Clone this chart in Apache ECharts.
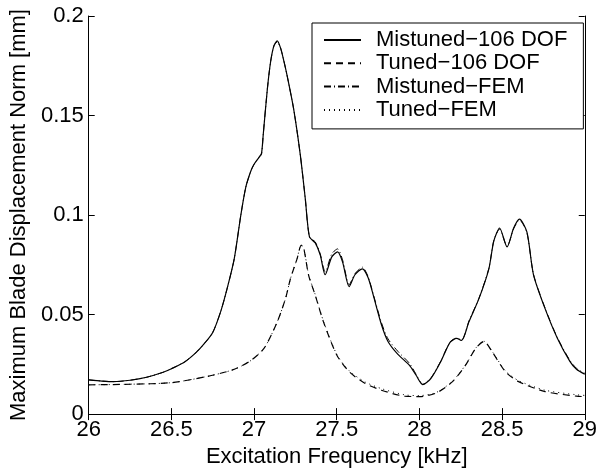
<!DOCTYPE html>
<html>
<head>
<meta charset="utf-8">
<script src="https://cdn.jsdelivr.net/npm/echarts@6/dist/echarts.min.js"></script>
<style>html,body{margin:0;padding:0;background:#fff}#c{width:600px;height:473px}</style>
</head>
<body>
<div id="c"></div>
<script>
// Upper curve (mistuned)
var upperFreq = [26.00,26.08,26.15,26.25,26.35,26.45,26.50,26.58,26.65,26.70,26.75,26.80,26.84,26.88,26.92,26.95,26.98,27.00,27.03,27.045,27.055,27.08,27.10,27.12,27.14,27.16,27.18,27.20,27.24,27.28,27.31,27.335,27.37,27.40,27.43,27.47,27.505,27.535,27.575,27.61,27.655,27.69,27.72,27.77,27.81,27.87,27.94,27.98,28.02,28.07,28.13,28.185,28.225,28.255,28.30,28.36,28.42,28.45,28.485,28.53,28.57,28.605,28.65,28.69,28.76,28.835,28.91,28.95,29.00];
var mistuned106 = [0.0172,0.0166,0.0163,0.0170,0.0185,0.0210,0.0228,0.0262,0.0310,0.0355,0.0410,0.0520,0.0640,0.0780,0.1000,0.1140,0.1220,0.1255,0.1290,0.1310,0.1400,0.1630,0.1770,0.1850,0.1875,0.1840,0.1775,0.1700,0.1530,0.1300,0.1080,0.0890,0.0860,0.0800,0.0700,0.0790,0.0815,0.0765,0.0640,0.0700,0.0730,0.0685,0.0600,0.0450,0.0365,0.0300,0.0245,0.0195,0.0148,0.0180,0.0265,0.0360,0.0380,0.0370,0.0465,0.0580,0.0730,0.0870,0.0935,0.0840,0.0935,0.0980,0.0915,0.0700,0.0530,0.0380,0.0265,0.0225,0.0200];
var mistunedFEM = [0.0172,0.0166,0.0163,0.0170,0.0185,0.0210,0.0228,0.0262,0.0310,0.0355,0.0410,0.0520,0.0640,0.0780,0.1000,0.1140,0.1220,0.1255,0.1290,0.1305,0.1400,0.1630,0.1770,0.1850,0.1870,0.1840,0.1775,0.1700,0.1530,0.1300,0.1080,0.0890,0.0865,0.0805,0.0715,0.0805,0.0830,0.0775,0.0650,0.0705,0.0738,0.0690,0.0605,0.0460,0.0378,0.0315,0.0255,0.0200,0.0150,0.0182,0.0268,0.0362,0.0382,0.0372,0.0468,0.0582,0.0732,0.0872,0.0930,0.0842,0.0932,0.0975,0.0912,0.0702,0.0532,0.0383,0.0270,0.0230,0.0205];
// Lower curve (tuned)
var lowerFreq = [26.00,26.25,26.50,26.71,26.87,26.97,27.06,27.14,27.19,27.22,27.26,27.285,27.30,27.33,27.37,27.42,27.50,27.575,27.67,27.77,27.91,28.00,28.10,28.20,28.28,28.34,28.39,28.44,28.52,28.60,28.76,28.95,29.00];
var tuned106 = [0.0147,0.0150,0.0158,0.0188,0.0222,0.0263,0.0330,0.0463,0.0580,0.0680,0.0780,0.0848,0.0835,0.0697,0.0597,0.0463,0.0297,0.0213,0.0155,0.0120,0.0090,0.0088,0.0105,0.0163,0.0247,0.0330,0.0365,0.0313,0.0213,0.0163,0.0113,0.0090,0.0088];
var tunedFEM = [0.0147,0.0150,0.0158,0.0188,0.0222,0.0263,0.0330,0.0463,0.0580,0.0680,0.0780,0.0850,0.0837,0.0700,0.0600,0.0466,0.0300,0.0218,0.0162,0.0128,0.0097,0.0093,0.0108,0.0165,0.0248,0.0331,0.0366,0.0315,0.0217,0.0168,0.0120,0.0097,0.0094];

var xTicks = [26, 26.5, 27, 27.5, 28, 28.5, 29];
var yTicks = [0, 0.05, 0.1, 0.15, 0.2];
var seriesNames = ['Mistuned\u2212106 DOF','Tuned\u2212106 DOF','Mistuned\u2212FEM','Tuned\u2212FEM'];

function pairs(xs, ys){ return xs.map(function(x,i){ return [x, ys[i]]; }); }

var FONT = 'Liberation Sans, Arial, Helvetica, sans-serif';
var FS = 22;
var chart = echarts.init(document.getElementById('c'), null, {renderer:'canvas'});
var axisCommon = {
  axisLine:{show:true, lineStyle:{color:'#000', width:1}},
  axisTick:{show:true, inside:true, length:6, lineStyle:{color:'#000', width:1}},
  splitLine:{show:false}
};
chart.setOption({
  animation:false,
  backgroundColor:'#fff',
  grid:{left:80, right:12, top:16, bottom:57, containLabel:false},
  xAxis:[
    Object.assign({type:'value', min:xTicks[0], max:xTicks[xTicks.length-1], interval:0.5, position:'bottom',
      axisLabel:{color:'#000', fontFamily:FONT, fontSize:FS, margin:5,
        formatter:function(v){ return String(Math.round(v*10)/10); }},
      name:'Excitation Frequency [kHz]', nameLocation:'middle', nameGap:27,
      nameTextStyle:{color:'#000', fontFamily:FONT, fontSize:FS}}, axisCommon),
    Object.assign({type:'value', min:xTicks[0], max:xTicks[xTicks.length-1], interval:0.5, position:'top',
      axisLabel:{show:false}}, axisCommon)
  ],
  yAxis:[
    Object.assign({type:'value', min:yTicks[0], max:yTicks[yTicks.length-1], interval:0.05, position:'left',
      axisLabel:{color:'#000', fontFamily:FONT, fontSize:FS, margin:5,
        formatter:function(v){ return String(Math.round(v*100)/100); }},
      name:'Maximum Blade Displacement Norm [mm]', nameLocation:'middle', nameGap:54,
      nameTextStyle:{color:'#000', fontFamily:FONT, fontSize:FS}}, axisCommon),
    Object.assign({type:'value', min:yTicks[0], max:yTicks[yTicks.length-1], interval:0.05, position:'right',
      axisLabel:{show:false}}, axisCommon)
  ],
  legend:{
    orient:'vertical', left:312, top:23, padding:[6,16,8,11],
    backgroundColor:'#fff', borderColor:'#000', borderWidth:1, borderRadius:0,
    itemWidth:37, itemHeight:14, itemGap:1.3,
    itemStyle:{color:'rgba(0,0,0,0)', borderColor:'rgba(0,0,0,0)', borderWidth:0, opacity:0},
    textStyle:{color:'#000', fontFamily:FONT, fontSize:FS, lineHeight:22, padding:[0,0,0,10]},
    data:seriesNames
  },
  series:[
    {name:seriesNames[0], type:'line', data:pairs(upperFreq, mistuned106), symbol:'none', smooth:0.25, z:4,
      lineStyle:{color:'#000', width:1.2, type:'solid'}, itemStyle:{color:'#000'}},
    {name:seriesNames[1], type:'line', data:pairs(lowerFreq, tuned106), symbol:'none', smooth:0.25, z:3,
      lineStyle:{color:'#000', width:1.2, type:[7,5]}, itemStyle:{color:'#000'}},
    {name:seriesNames[2], type:'line', data:pairs(upperFreq, mistunedFEM), symbol:'none', smooth:0.25, z:3,
      lineStyle:{color:'#000', width:1, type:[7,3,1,3]}, itemStyle:{color:'#000'}},
    {name:seriesNames[3], type:'line', data:pairs(lowerFreq, tunedFEM), symbol:'none', smooth:0.25, z:2,
      lineStyle:{color:'#000', width:1, type:[1,4]}, itemStyle:{color:'#000'}}
  ]
});
</script>
</body>
</html>
